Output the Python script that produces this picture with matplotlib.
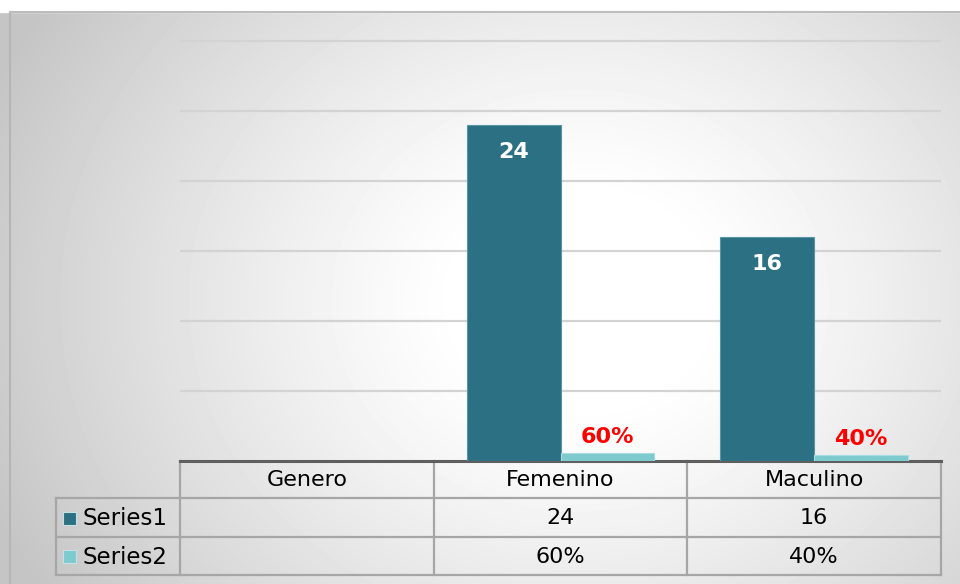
import matplotlib.pyplot as plt
import numpy as np
from matplotlib.patches import Rectangle

categories = ['Genero', 'Femenino', 'Maculino']
series_names = ['Series1', 'Series2']
series1 = [None, 24, 16]
series2 = [None, 0.60, 0.40]

dark = '#2b7083'
light = '#7dcbcf'
grid_c = '#d3d3d3'
line_c = '#a6a6a6'

W, H = 960, 584
fig = plt.figure(figsize=(W / 100, H / 100), dpi=100)

# background layer in pixel coordinates
bg = fig.add_axes([0, 0, 1, 1])
bg.set_xlim(0, W)
bg.set_ylim(H, 0)
bg.axis('off')

yy, xx = np.mgrid[0:H, 0:W]
d = np.hypot(xx - 580, (yy - 300) / 0.85)
shade = 1 - 0.23 * np.clip((d - 120) / 520, 0, 1) ** 1.2
bg.imshow(shade, cmap='gray', vmin=0, vmax=1, extent=(0, W, H, 0),
          aspect='auto', zorder=0)
bg.add_patch(Rectangle((0, 0), W, 12, color='white', zorder=1))
bg.plot([10, 10], [12, H], color='#b5b5b5', lw=1.5, zorder=2)
bg.plot([10, W], [12, 12], color='#bdbdbd', lw=1.5, zorder=2)

# chart area (30 sits at y=41 px, a little headroom so the top gridline shows)
ymax = 30.5
px_per_unit = (461 - 41) / 30
top = 461 - ymax * px_per_unit
ax = fig.add_axes([180 / W, (H - 461) / H, (941 - 180) / W, (461 - top) / H])
ax.patch.set_alpha(0)
x = np.arange(len(categories))
w = 0.37
ax.set_xlim(-0.5, len(categories) - 0.5)
ax.set_ylim(0, ymax)
ax.set_yticks(range(5, 31, 5))
ax.set_xticks([])
ax.tick_params(left=False, labelleft=False)
ax.grid(axis='y', color=grid_c, lw=1.6)
ax.set_axisbelow(True)
for s in ax.spines.values():
    s.set_visible(False)

for xi, v1, v2 in zip(x, series1, series2):
    if v1 is None:
        continue
    ax.bar(xi - w / 2, v1, w, color=dark, edgecolor='#5a95a5', lw=0.8)
    ax.bar(xi + w / 2, v2, w, color=light, edgecolor='#a8dde0', lw=0.8)
    ax.annotate(str(v1), (xi - w / 2, v1), xytext=(0, -27),
                textcoords='offset pixels', ha='center', va='center',
                color='white', fontsize=16, fontweight='bold')
    ax.annotate(f'{v2:.0%}', (xi + w / 2, v2), xytext=(0, 16),
                textcoords='offset pixels', ha='center', va='center',
                color='#ff0000', fontsize=16, fontweight='bold')

# data table below the chart
edges = [ax.transData.transform((e, 0))[0] for e in np.arange(-0.5, len(categories))]
rows = [461, 498, 537, 575]
label_left = 56

bg.plot([edges[0], edges[-1]], [461, 461], color='#5f5f5f', lw=2.2, zorder=4)
for e in edges:
    bg.plot([e, e], [461, rows[-1]], color=line_c, lw=1.6, zorder=3)
bg.plot([label_left, label_left], [rows[1], rows[-1]], color=line_c, lw=1.6, zorder=3)
for r in rows[1:]:
    bg.plot([label_left, edges[-1]], [r, r], color=line_c, lw=1.6, zorder=3)

centers = [(a + b) / 2 for a, b in zip(edges[:-1], edges[1:])]
for c, name in zip(centers, categories):
    bg.text(c, (rows[0] + rows[1]) / 2 + 1, name, ha='center', va='center',
            fontsize=16, zorder=5)

table_rows = [
    [str(v) if v is not None else '' for v in series1],
    [f'{v:.0%}' if v is not None else '' for v in series2],
]
for i, (name, color, vals) in enumerate(zip(series_names, [dark, light], table_rows)):
    yc = (rows[i + 1] + rows[i + 2]) / 2 + 1
    bg.add_patch(Rectangle((63, yc - 7), 13, 13, facecolor=color,
                           edgecolor='#c8e0e4', lw=0.8, zorder=5))
    bg.text(82, yc, name, ha='left', va='center', fontsize=16.5, zorder=5)
    for c, v in zip(centers, vals):
        bg.text(c, yc, v, ha='center', va='center', fontsize=16, zorder=5)

fig.savefig('out.png', dpi=100)
